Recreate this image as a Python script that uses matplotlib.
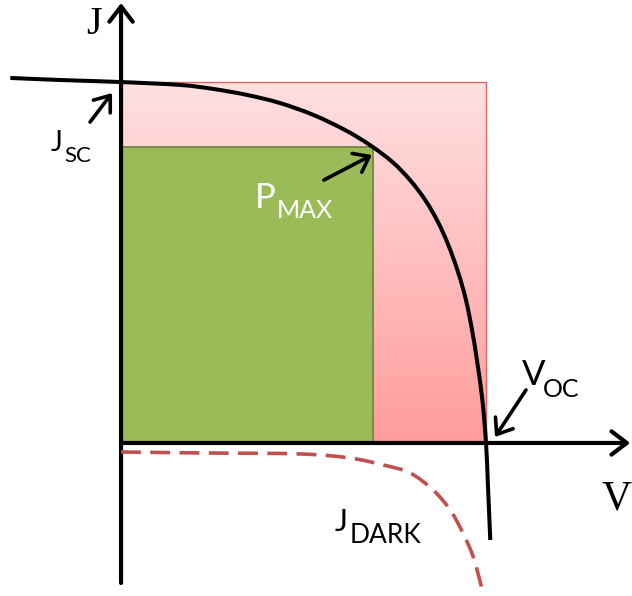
import numpy as np
import matplotlib
matplotlib.use("Agg")
import matplotlib.pyplot as plt
from matplotlib.colors import LinearSegmentedColormap
from matplotlib.patches import Rectangle, PathPatch
from matplotlib.path import Path

# ---- illuminated J-V characteristic (V in volts, J in mA/cm^2) ----
v_light = [-0.182, -0.100, 0.000, 0.097, 0.151, 0.207, 0.261, 0.316, 0.368,
           0.409, 0.446, 0.475, 0.500, 0.521, 0.538, 0.554, 0.567, 0.577,
           0.585, 0.594, 0.600, 0.603, 0.607]
j_light = [30.34, 30.17, 30.00, 29.76, 29.43, 28.93, 28.26, 27.27, 26.02,
           24.77, 23.36, 21.86, 20.20, 18.37, 16.46, 14.21, 11.89, 9.39,
           6.90, 3.57, 0.00, -3.33, -8.06]

# ---- dark J-V characteristic ----
v_dark = [0.000, 0.130, 0.294, 0.376, 0.431, 0.475, 0.513, 0.541, 0.562,
          0.579, 0.593]
j_dark = [-0.75, -0.83, -0.91, -1.25, -1.83, -2.49, -3.91, -5.57, -7.48,
          -9.48, -12.05]

# ---- characteristic points ----
v_oc = 0.600
j_sc = 30.0
v_mp = 0.414
j_mp = 24.6

# ---- layout of the sketch ----
x_range = (-0.199, 0.840)
y_range = (-12.72, 36.82)
v_axis_end = 0.837
j_axis_top = 36.57
j_axis_bottom = -11.64

fig = plt.figure(figsize=(6.32, 5.96), dpi=100)
ax = fig.add_axes([0, 0, 1, 1])
ax.set_xlim(*x_range)
ax.set_ylim(*y_range)
ax.set_axis_off()


def shifted(pt, dx, dy):
    """Point displaced by (dx, dy) pixels from a data point."""
    x, y = ax.transData.transform(pt)
    return tuple(ax.transData.inverted().transform((x + dx, y + dy)))


def smooth_path(xs, ys):
    """Cubic Bezier path through the points (Catmull-Rom tangents),
    built in display space so the bends look even on screen."""
    pts = ax.transData.transform(np.column_stack([xs, ys]))
    n = len(pts)
    verts = [pts[0]]
    codes = [Path.MOVETO]
    for i in range(n - 1):
        p0 = pts[max(i - 1, 0)]
        p1 = pts[i]
        p2 = pts[i + 1]
        p3 = pts[min(i + 2, n - 1)]
        c1 = p1 + (p2 - p0) / 6.0
        c2 = p2 - (p3 - p1) / 6.0
        verts += [c1, c2, p2]
        codes += [Path.CURVE4] * 3
    verts = ax.transData.inverted().transform(np.array(verts))
    return Path(verts, codes)


# maximum theoretical power rectangle (pink gradient)
pink = LinearSegmentedColormap.from_list("pink", ["#FF9C9C", "#FFE0E1"])
grad = np.linspace(0, 1, 256).reshape(-1, 1)
ax.imshow(grad, cmap=pink, origin="lower", aspect="auto",
          extent=[0, v_oc, 0, j_sc], zorder=1, interpolation="bilinear")
ax.add_patch(Rectangle((0, 0), v_oc, j_sc, fill=False, edgecolor="#E06666",
                       lw=1.0, zorder=1.5))

# maximum power rectangle
ax.add_patch(Rectangle((0, 0), v_mp, j_mp, facecolor="#9BBB59",
                       edgecolor="#71893F", lw=1.3, zorder=2))

# axes with arrow heads
axis_style = dict(arrowstyle="->,head_length=0.55,head_width=0.42",
                  lw=3.0, color="black", mutation_scale=20,
                  shrinkA=0, shrinkB=0)
ax.annotate("", xy=(0, j_axis_top), xytext=(0, j_axis_bottom),
            arrowprops=axis_style, zorder=3)
ax.annotate("", xy=(v_axis_end, 0), xytext=(0, 0),
            arrowprops=axis_style, zorder=3)

# curves
ax.add_patch(PathPatch(smooth_path(v_dark, j_dark), fill=False,
                       edgecolor="#C0504D", lw=2.6, ls=(0, (5.5, 2.6)),
                       capstyle="butt", zorder=4))
ax.add_patch(PathPatch(smooth_path(v_light, j_light), fill=False,
                       edgecolor="black", lw=2.9, capstyle="butt",
                       zorder=5))

# pointer arrows
ptr_style = dict(arrowstyle="->,head_length=0.5,head_width=0.38",
                 lw=2.6, color="black", mutation_scale=20,
                 shrinkA=0, shrinkB=0)
for anchor, tip, tail in [((0, j_sc), (-9, -11), (-31, -40)),
                          ((v_mp, j_mp), (-1, -8), (-49, -33)),
                          ((v_oc, 0), (9, 6), (40, 53))]:
    ax.annotate("", xy=shifted(anchor, *tip),
                xytext=shifted(anchor, *tail),
                arrowprops=ptr_style, zorder=6)

sans = ["Lato", "DejaVu Sans"]
serif = ["Liberation Serif", "DejaVu Serif"]


def label(anchor, main, sub, main_off, sub_off, main_size, sub_size,
          color="black"):
    ax.text(*shifted(anchor, *main_off), main, family=sans,
            fontsize=main_size, color=color, ha="left", va="baseline",
            zorder=7)
    ax.text(*shifted(anchor, *sub_off), sub, family=sans,
            fontsize=sub_size, color=color, ha="left", va="baseline",
            zorder=7)


label((0, j_sc), "J", "SC", (-70, -69), (-57, -80), 20, 16)
label((v_mp, j_mp), "P", "MAX", (-118, -61), (-96, -71), 25, 18,
      color="white")
label((v_oc, 0), "V", "OC", (36, 58), (57, 46), 25, 18)
label((v_dark[3], j_dark[3]), "J", "DARK", (-15, -73), (0, -85), 22, 19)

# axis names
ax.text(*shifted((0, j_axis_top), -35, -31), "J", family=serif,
        fontsize=29, ha="left", va="baseline")
ax.text(*shifted((v_axis_end, 0), -29, -67), "V", family=serif,
        fontsize=30, ha="left", va="baseline")

fig.savefig("out.png", dpi=100)
